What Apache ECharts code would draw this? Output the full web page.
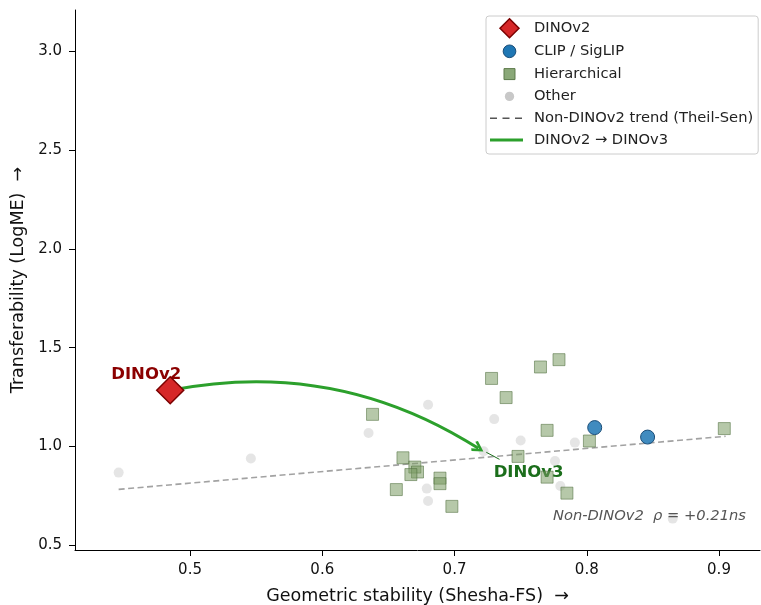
<!DOCTYPE html>
<html>
<head>
<meta charset="utf-8">
<script src="https://cdn.jsdelivr.net/npm/echarts@6/dist/echarts.min.js"></script>
<style>
  html, body { margin: 0; padding: 0; background: #fff; }
  #chart { width: 761px; height: 605px; }
</style>
</head>
<body>
<div id="chart"></div>
<script>
var chart = echarts.init(document.getElementById("chart"));

// values
var xTicks = [0.5, 0.6, 0.7, 0.8, 0.9];
var yTicks = [0.5, 1.0, 1.5, 2.0, 2.5, 3.0];

var dinov2 = [[0.485, 1.284]];
var dinov3 = [0.722, 0.975];
var clip = [[0.806, 1.095], [0.846, 1.047]];
var hierarchical = [
    [0.638, 1.162], [0.728, 1.344], [0.739, 1.247], [0.765, 1.402], [0.779, 1.439],
    [0.770, 1.081], [0.802, 1.027], [0.904, 1.090], [0.748, 0.949], [0.770, 0.844],
    [0.785, 0.763], [0.661, 0.942], [0.670, 0.895], [0.672, 0.870], [0.667, 0.857],
    [0.689, 0.839], [0.689, 0.811], [0.656, 0.781], [0.698, 0.696]
];
var other = [
    [0.680, 1.211], [0.635, 1.068], [0.730, 1.138], [0.750, 1.030], [0.791, 1.019],
    [0.776, 0.926], [0.780, 0.799], [0.679, 0.786], [0.680, 0.723], [0.865, 0.634],
    [0.446, 0.867], [0.546, 0.938]
];
var trend = [[0.446, 0.782], [0.905, 1.051]];
var arrowPath = [[0.485, 1.284], [0.718, 0.990]];
var dinov3Pointer = [[0.724, 0.970], [0.734, 0.934]];

var font = "DejaVu Sans";

// legend icons (extra M points only pad the bounding box)
var iconDiamond = "path://M0,-1L1,0L0,1L-1,0Z";
var iconBlue = "path://M1,0A1,1,0,1,1,-1,0A1,1,0,1,1,1,0ZM-1.5,-1.5M1.5,1.5";
var iconSquare = "path://M-1,-1H1V1H-1ZM-1.73,-1.73M1.73,1.73";
var iconGray = "path://M1,0A1,1,0,1,1,-1,0A1,1,0,1,1,1,0ZM-2.04,-2.04M2.04,2.04";
var iconDash = "path://M0,0h7v1.6h-7zM12.5,0h7v1.6h-7zM25,0h7v1.6h-7zM0,-8.7M39,10.3";
var iconSolid = "path://M0,0h33v3h-33zM0,-8M39,11";

var option = {
    animation: false,
    textStyle: { fontFamily: font },
    title: {
        text: "Non-DINOv2  \u03c1 = +0.21ns",
        right: 15,
        top: 509,
        padding: 0,
        textStyle: { fontStyle: "italic", fontWeight: "normal", fontSize: 14.7, color: "#555", fontFamily: font }
    },
    legend: {
        orient: "vertical",
        left: 486,
        top: 16,
        padding: [2, 5, 4.5, 4],
        itemWidth: 39,
        itemHeight: 19,
        itemGap: 2.8,
        symbolKeepAspect: true,
        borderColor: "#ccc",
        borderWidth: 1,
        borderRadius: 3,
        backgroundColor: "rgba(255,255,255,0.85)",
        textStyle: { fontSize: 14.7, color: "#222", fontFamily: font },
        data: [
            { name: "DINOv2", icon: iconDiamond, itemStyle: { color: "#d62728", borderColor: "#7a0000", borderWidth: 1.5 } },
            { name: "CLIP / SigLIP", icon: iconBlue, itemStyle: { color: "#1f77b4", borderColor: "#1a4d78", borderWidth: 1 } },
            { name: "Hierarchical", icon: iconSquare, itemStyle: { color: "#8aa878", borderColor: "#5d7a4b", borderWidth: 1 } },
            { name: "Other", icon: iconGray, itemStyle: { color: "#c8c8c8", borderWidth: 0 } },
            { name: "Non-DINOv2 trend (Theil-Sen)", icon: iconDash, itemStyle: { color: "#555", borderWidth: 0 } },
            { name: "DINOv2 \u2192 DINOv3", icon: iconSolid, itemStyle: { color: "#2ca02c", borderWidth: 0 } }
        ]
    },
    grid: { left: 75, right: 1, top: 10, bottom: 55, containLabel: false, outerBoundsMode: "none" },
    xAxis: {
        type: "value",
        min: 0.413,
        max: 0.931,
        name: "Geometric stability (Shesha-FS)  \u2192",
        nameLocation: "middle",
        nameGap: 37,
        nameTextStyle: { fontSize: 17.5, color: "#111", fontFamily: font },
        axisLine: { lineStyle: { color: "#000", width: 1 } },
        axisTick: { show: true, length: 6, customValues: xTicks, lineStyle: { color: "#000" } },
        axisLabel: {
            customValues: xTicks, margin: 13, fontSize: 15, color: "#111", fontFamily: font,
            formatter: function (v) { return v.toFixed(1); }
        },
        splitLine: { show: false }
    },
    yAxis: {
        type: "value",
        min: 0.475,
        max: 3.21,
        name: "Transferability (LogME)  \u2192",
        nameLocation: "middle",
        nameGap: 46,
        nameTextStyle: { fontSize: 17.5, color: "#111", fontFamily: font },
        axisLine: { show: true, lineStyle: { color: "#000", width: 1 } },
        axisTick: { show: true, length: 6, customValues: yTicks, lineStyle: { color: "#000" } },
        axisLabel: {
            customValues: yTicks, margin: 13, fontSize: 15, color: "#111", fontFamily: font,
            formatter: function (v) { return v.toFixed(1); }
        },
        splitLine: { show: false }
    },
    series: [
        {
            name: "labels",
            type: "scatter",
            symbolSize: 1,
            z: 1,
            itemStyle: { color: "rgba(0,0,0,0)", opacity: 1 },
            label: { show: true, position: "inside", fontWeight: "bold", fontSize: 16.5, fontFamily: font },
            data: [
                { value: dinov2[0], label: { formatter: "DINOv2", offset: [-24, -16], color: "#8b0000" } },
                { value: dinov3, label: { formatter: "DINOv3", offset: [45, 21], color: "#1b6e1b" } }
            ]
        },
        {
            name: "Other",
            type: "scatter",
            symbol: "circle",
            symbolSize: 10,
            z: 2,
            itemStyle: { color: "rgba(211,211,211,0.6)", opacity: 1 },
            data: other.concat([dinov3])
        },
        {
            name: "Non-DINOv2 trend (Theil-Sen)",
            type: "line",
            symbol: "none",
            z: 3,
            lineStyle: { color: "#555", opacity: 0.55, width: 1.6, type: [6, 3.5] },
            data: trend
        },
        {
            name: "Hierarchical",
            type: "scatter",
            symbol: "rect",
            symbolSize: 12,
            z: 4,
            itemStyle: { color: "rgba(122,154,99,0.55)", borderColor: "rgba(79,110,60,0.55)", borderWidth: 1, opacity: 1 },
            data: hierarchical
        },
        {
            name: "CLIP / SigLIP",
            type: "scatter",
            symbol: "circle",
            symbolSize: 14,
            z: 5,
            itemStyle: { color: "rgba(31,119,180,0.85)", borderColor: "#1a4d78", borderWidth: 1, opacity: 1 },
            data: clip
        },
        {
            name: "DINOv2 \u2192 DINOv3",
            type: "lines",
            coordinateSystem: "cartesian2d",
            z: 6,
            symbol: ["none", "path://M7,0L14,9L11.5,10.5L7,4.5L2.5,10.5L0,9Z"],
            symbolSize: [16, 12],
            itemStyle: { color: "#2ca02c" },
            lineStyle: { color: "#2ca02c", width: 3, curveness: 0.2, opacity: 1 },
            data: [{ coords: arrowPath }]
        },
        {
            name: "pointer",
            type: "lines",
            coordinateSystem: "cartesian2d",
            z: 6,
            lineStyle: { color: "#1b6e1b", width: 1, opacity: 1 },
            data: [{ coords: dinov3Pointer }]
        },
        {
            name: "DINOv2",
            type: "scatter",
            symbol: "diamond",
            symbolSize: 27,
            z: 7,
            itemStyle: { color: "#d62728", borderColor: "#7a0000", borderWidth: 1.5, opacity: 1 },
            data: dinov2
        }
    ]
};
chart.setOption(option);
</script>
</body>
</html>
